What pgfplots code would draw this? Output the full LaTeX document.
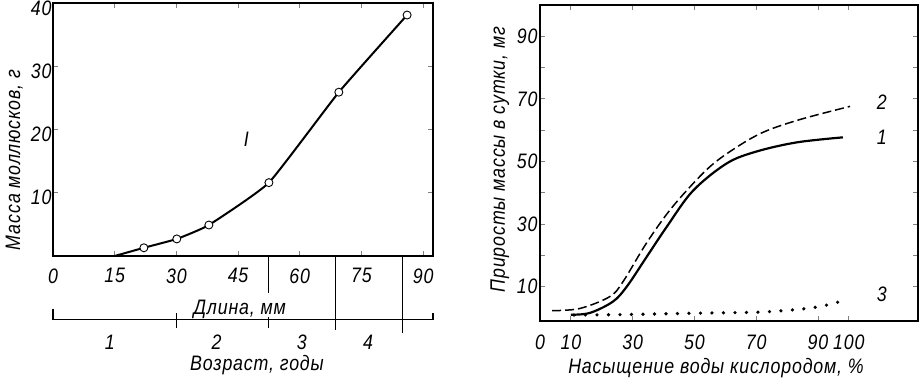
\documentclass[border=0pt]{standalone}
\usepackage{fontspec}
\setmainfont{Liberation Sans}[FakeStretch=0.85, LetterSpace=4]
\usepackage{pgfplots}
\pgfplotsset{compat=1.18}
\newcommand\lab{\fontsize{21}{23}\selectfont\itshape}
\begin{document}
\begin{tikzpicture}[x=1bp,y=1bp]
\useasboundingbox (0,0) rectangle (922,383);
% ---------- left panel ----------
\begin{axis}[at={(53bp,127bp)}, anchor=south west, scale only axis,
  width=380bp, height=253bp, xmin=0, xmax=92.4, ymin=0, ymax=40,
  clip=false, axis line style={line width=1.3pt},
  xtick={0,15,...,90}, ytick={10,20,30,40},
  tick align=inside, major tick length=5bp, tick style={line width=0.8pt},
  /pgf/number format/assume math mode=true,
  tick label style={font=\lab},
  xticklabel style={yshift=-9bp},
  yticklabel style={xshift=2bp, yshift=-5bp}]
\addplot[line width=2pt, smooth, tension=0.25, mark=*, mark size=4bp,
  mark options={fill=white, draw=black, line width=0.9pt}, mark indices={2,3,4,5,6,7}]
  coordinates {(15,0) (22.1,1.3) (30.1,2.7) (37.9,4.9) (52.5,11.6) (69.5,25.9) (86.1,38.1)};
\node[font=\lab] at (axis cs:47,18.4) {I};
% length / age scale under the axis
\draw[line width=1.1pt] (axis cs:0,-8.3) -- (axis cs:0,-10.1) -- (axis cs:92.4,-10.1) -- (axis cs:92.4,-9);
\draw[line width=1.1pt] (axis cs:30,-9) -- (axis cs:30,-11.4);
\draw[line width=1.1pt] (axis cs:52.3,0) -- (axis cs:52.3,-5.9);
\draw[line width=1.1pt] (axis cs:52.3,-9.7) -- (axis cs:52.3,-11.4);
\draw[line width=1.1pt] (axis cs:68.8,0) -- (axis cs:68.8,-11.7);
\draw[line width=1.1pt] (axis cs:85,0) -- (axis cs:85,-12.2);
\node[font=\lab] at (axis cs:45.4,-8.5) {Длина, мм};
\node[font=\lab] at (axis cs:13.8,-13.6) {1};
\node[font=\lab] at (axis cs:39.8,-13.6) {2};
\node[font=\lab] at (axis cs:60.5,-13.6) {3};
\node[font=\lab] at (axis cs:76.6,-13.6) {4};
\node[font=\lab] at (axis cs:49.6,-17.2) {Возраст, годы};
\node[font=\lab, rotate=90] at (axis cs:-9.4,15.2) {Масса моллюсков, г};
\end{axis}
% ---------- right panel ----------
\begin{axis}[at={(540bp,62bp)}, anchor=south west, scale only axis,
  width=378bp, height=316bp, xmin=0, xmax=122.4, ymin=-1, ymax=100,
  clip=false, axis line style={line width=1.1pt},
  xtick={0,10,30,50,70,90,100}, ytick={10,20,...,90},
  yticklabels={10,,30,,50,,70,,90},
  tick align=inside, major tick length=5bp, tick style={line width=0.8pt},
  /pgf/number format/assume math mode=true,
  tick label style={font=\lab},
  xticklabel style={yshift=-10bp},
  yticklabel style={xshift=1bp}]
\addplot[line width=2.2pt, smooth, tension=0.55]
  coordinates {(10,1.0) (16.2,1.6) (23.6,5.2) (28.1,10) (34.6,19.6) (41.1,29.2) (49.5,40.6) (60.5,49.4) (70.2,53.2) (83.2,56.1) (98.1,57.7)};
\addplot[line width=1.5pt, smooth, tension=0.55, dash pattern=on 9bp off 4bp]
  coordinates {(3.9,2.3) (12.9,3.0) (22.6,6.8) (26.9,11.6) (34.6,24.1) (43,35.6) (54,47.4) (62.5,53.8) (72.2,59.3) (84.2,63.4) (100.4,67.6)};
\addplot[line width=3.6pt, smooth, tension=0.5, line cap=round, dash pattern=on 0pt off 11.5bp]
  coordinates {(11,0.9) (30,1.1) (50,1.5) (70,1.8) (80,2.4) (88,3.2) (95,4.6) (98.7,5.8)};
\node[font=\lab] at (axis cs:110.7,69) {2};
\node[font=\lab] at (axis cs:110.7,57.7) {1};
\node[font=\lab] at (axis cs:110.7,7.4) {3};
\node[font=\lab] at (axis cs:57,-15.9) {Насыщение воды кислородом, \%};
\node[font=\lab, rotate=90] at (axis cs:-13,50.6) {Приросты массы в сутки, мг};
\end{axis}
\end{tikzpicture}
\end{document}
